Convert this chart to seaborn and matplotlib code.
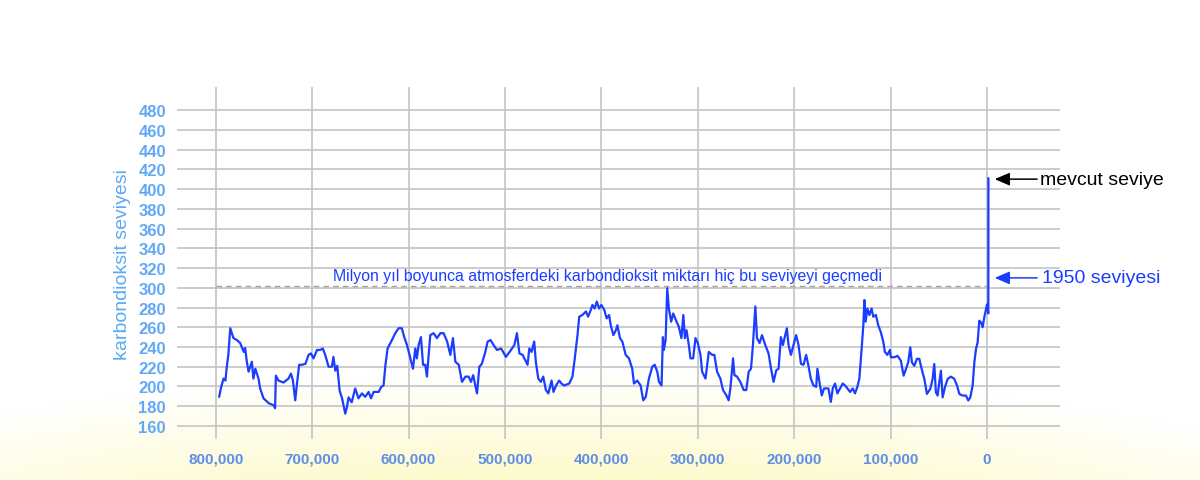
import numpy as np
import pandas as pd
import matplotlib
matplotlib.use("Agg")
import matplotlib.pyplot as plt
import seaborn as sns

# ---- data (age in thousands of years before present, CO2 ppm) ----
age_kyr = [
    796.5, 794.8, 792, 790, 788.6, 787, 785, 783.4, 781.7, 778, 774.7, 771, 769.6, 767.8, 766,
    762.6, 761, 759, 755.7, 754, 750.5, 745, 740, 738.5, 737.7, 735, 729.8, 724.6, 722, 720,
    717.6, 716, 713.5, 710.7, 707, 703.8, 701.4, 698.6, 695, 691.7, 689, 686.5, 683, 679.6, 678,
    676, 674, 671.6, 669, 665.7, 664, 662.3, 659, 655.4, 652, 648.4, 645, 641.5, 639, 636.3,
    631, 628.4, 626, 624, 621.8, 617.3, 613.8, 610.4, 607, 604.5, 601.7, 599, 595.5, 593, 591.4,
    589.6, 587.2, 585, 582.7, 581, 577.5, 574, 570.6, 567, 563.7, 560, 556.7, 554, 551.5, 548,
    544.6, 541, 537.7, 535.3, 533, 530.8, 529, 526.6, 524, 520.4, 518, 515, 511.8, 508.3, 504,
    499, 493.8, 490.3, 487.6, 485, 481.7, 476.6, 474.8, 472.4, 469.7, 468, 465.5, 462.8, 460.3,
    457.6, 455, 451.7, 449.7, 447, 443.8, 441.4, 438.6, 433.4, 430, 427.6, 424.8, 423, 419.7,
    416, 413.8, 411, 409.3, 407, 404.8, 402.4, 400, 397, 394.5, 392, 390.3, 387.6, 385, 383.4,
    380.7, 378.3, 374.8, 371.4, 368, 366.2, 362.8, 359.3, 356.6, 354, 350.7, 347.2, 344.8, 342,
    340.3, 337.6, 336.2, 335.2, 333.4, 331.7, 330, 327.6, 325.5, 322, 319.7, 317, 315, 313.4,
    311.7, 309.3, 307.6, 304.8, 302.4, 300, 297.2, 295.5, 292, 288.6, 285, 282.8, 280, 276.6,
    273.8, 270.3, 268, 266.2, 263.4, 262, 259.3, 255.9, 252.4, 249.7, 247.2, 244.8, 242.8,
    240.3, 238.6, 235.9, 233.4, 230, 226.6, 224, 221.4, 218.6, 216.2, 213.8, 211.7, 209.3,
    207.6, 205.9, 203.4, 200.7, 198, 195.5, 193, 190.3, 187.6, 185, 182.8, 180, 177.2, 175.9,
    173.8, 171.4, 169, 166.2, 164.5, 162, 160, 157.6, 155.2, 152.4, 149.7, 147.2, 144.8, 142,
    139.3, 136.9, 134.5, 132.4, 130, 128.3, 127.2, 125.9, 124.1, 122, 119.7, 118, 115.2, 112.8,
    110.3, 107.6, 105.9, 103.4, 100.7, 99.7, 96.2, 92.7, 89.3, 86.5, 84, 81.7, 79.6, 77.9, 75.4,
    72.7, 70.2, 67.8, 65, 62.3, 58.8, 56.4, 54.7, 53, 51.2, 49.5, 47.8, 46, 43.6, 40.8, 37.4,
    33.9, 31.1, 28.7, 25.3, 21.8, 19.4, 17.3, 14.9, 13.1, 11.4, 9.7, 8, 6.2, 4.5, 2.8, 1.0,
    0.0, -1.4, -1.5,
]
co2_ppm = [
    189.5, 198, 208, 206, 220, 232, 259, 254, 249, 247, 244, 235, 239, 225, 215,
    225, 208, 218, 208, 198, 188, 183, 181, 178, 211, 206, 204, 208, 213, 206,
    186, 201, 222, 222, 223, 232, 233.5, 228.5, 237, 237, 238.5, 232, 220, 220, 230,
    216, 221, 196, 188, 172.5, 179, 189, 184, 198, 188, 193, 189.5, 194.5, 188, 194.5,
    194.5, 199.6, 201, 222, 238.5, 247, 254, 259, 259, 250, 242, 232, 218, 238.5, 228.5,
    242, 250, 222, 222, 210, 252, 254, 249, 254, 254, 245.5, 232, 249, 225, 222,
    204.7, 210, 210, 204.7, 211.5, 201, 193, 220, 223, 235, 245.5, 247, 242, 237, 238.5,
    230, 237, 242, 254, 233.5, 232, 222, 238.5, 235, 245.5, 225, 208, 204.7, 210,
    196.4, 193, 206, 194.5, 201, 206, 203, 201, 203, 210, 228.5, 252, 270.7, 272.4,
    276, 270.7, 277.5, 282.6, 279, 286, 279, 282.6, 277.5, 269, 272.4, 262, 252, 257, 262,
    249, 245.5, 232, 228.5, 218, 203, 206, 201, 186, 189.5, 208, 220, 222, 215,
    204.7, 201, 250, 237, 247, 299.5, 279, 265.6, 274, 265.6, 260.6, 249, 272.4, 249,
    257, 242, 228.5, 228.5, 249, 244, 232, 215, 208, 235, 232, 232, 215, 208,
    196.4, 191, 186, 198, 228.5, 211.5, 210, 204.7, 196.4, 196.4, 215, 218, 242,
    281, 249, 244, 252, 242, 233.5, 218, 204.7, 216.5, 218, 250, 242, 252,
    259, 242, 232, 242, 252, 242, 223, 222, 232, 220, 208, 201, 199.6, 218,
    204.7, 191, 198, 198, 198, 184.4, 198, 203, 193, 198, 203, 201, 198, 194.5,
    198, 193, 199.6, 208, 238.5, 262, 287.6, 265.6, 279, 272.4, 279, 270.7, 272.4, 262,
    255.5, 245.5, 235, 232, 237, 229.6, 229.6, 231, 226, 211, 217.8, 224.5, 239.7, 224.5, 221,
    228, 228, 217.8, 207.7, 192.5, 197.6, 207.7, 222.8, 194.2, 190.8, 204.3, 216, 189, 199.3, 207.7, 210,
    207.7, 201, 192.5, 190.8, 190.8, 185.8, 189, 201, 224.5, 238, 244.7, 266.6, 265, 260, 270, 278.4,
    283, 274, 411,
]

x_ticks = [800000, 700000, 600000, 500000, 400000, 300000, 200000, 100000, 0]
x_tick_labels = ["800,000", "700,000", "600,000", "500,000", "400,000",
                 "300,000", "200,000", "100,000", "0"]
y_ticks = [160, 180, 200, 220, 240, 260, 280, 300, 320, 340, 360, 380, 400, 420, 440, 460, 480]

max_level = 302          # dashed "never exceeded" level
level_1950 = 310         # arrow level for 1950
current_level = 410      # arrow level for current

ylabel = "karbondioksit seviyesi"
note = "Milyon yıl boyunca atmosferdeki karbondioksit miktarı hiç bu seviyeyi geçmedi"
label_now = "mevcut seviye"
label_1950 = "1950 seviyesi"

df = pd.DataFrame({"age": np.array(age_kyr) * 1000.0, "co2": co2_ppm})

sns.set_theme(style="whitegrid")
plt.rcParams["font.family"] = ["Liberation Sans", "DejaVu Sans"]

fig = plt.figure(figsize=(12, 4.81), dpi=100)

# background gradient (white -> pale yellow at the bottom)
bg = fig.add_axes([0, 0, 1, 1], zorder=-10)
H, W = 481, 1200
yy, xx = np.mgrid[0:H, 0:W]
r = np.sqrt(((xx - 560) / 1000.0) ** 2 + ((yy - 620) / 250.0) ** 2)
a = np.clip((1.0 - r) * 2.0, 0, 1)
yellow = np.array([253, 250, 196]) / 255.0
img = np.ones((H, W, 3)) * (1 - a[..., None]) + yellow * a[..., None]
bg.imshow(img, aspect="auto", extent=[0, 1, 0, 1], origin="upper")
bg.set_axis_off()

ax = fig.add_axes([0.1475, 0.0852, 0.7358, 0.7318])
ax.set_facecolor("none")

sns.lineplot(data=df, x="age", y="co2", ax=ax, color="#1a3dff", lw=1.6,
             sort=False, estimator=None, zorder=5)

ax.set_xlim(840250, -75700)
ax.set_ylim(146.8, 503.3)
ax.set_xticks(x_ticks)
ax.set_xticklabels(x_tick_labels)
ax.set_yticks(y_ticks)
ax.grid(True, color="#c4c4c4", lw=1.2)
for s in ax.spines.values():
    s.set_visible(False)
ax.tick_params(axis="both", length=0)
ax.tick_params(axis="x", pad=9, labelsize=11, labelcolor="#5f8ee8")
ax.tick_params(axis="y", pad=8, labelsize=12, labelcolor="#62a8f6")
for t in ax.get_xticklabels() + ax.get_yticklabels():
    t.set_fontweight("bold")
ax.set_xlabel("")
ax.set_ylabel(ylabel, fontsize=14, color="#5aaaf2", labelpad=5)

# dashed max level line
ax.plot([800000, 0], [max_level, max_level], color="#a8a29a", lw=1.0,
        dashes=(4, 3), zorder=4)
ax.text(393800, max_level + 2.5, note, ha="center", va="bottom",
        fontsize=11.4, color="#1a3dff", zorder=6)

# arrows
arrow_style = "-|>,head_length=0.65,head_width=0.28"
ax.annotate("", xy=(-8000, current_level), xytext=(-52000, current_level),
            arrowprops=dict(arrowstyle=arrow_style, color="black", lw=1.1,
                            mutation_scale=14, shrinkA=0, shrinkB=0),
            annotation_clip=False)
ax.text(-55000, current_level, label_now, ha="left", va="center",
        fontsize=14, color="black", clip_on=False)
ax.annotate("", xy=(-8000, level_1950), xytext=(-52000, level_1950),
            arrowprops=dict(arrowstyle=arrow_style, color="#1a3dff", lw=1.1,
                            mutation_scale=14, shrinkA=0, shrinkB=0),
            annotation_clip=False)
ax.text(-57000, level_1950, label_1950, ha="left", va="center",
        fontsize=14, color="#1a3dff", clip_on=False)

fig.savefig("out.png", dpi=100)
